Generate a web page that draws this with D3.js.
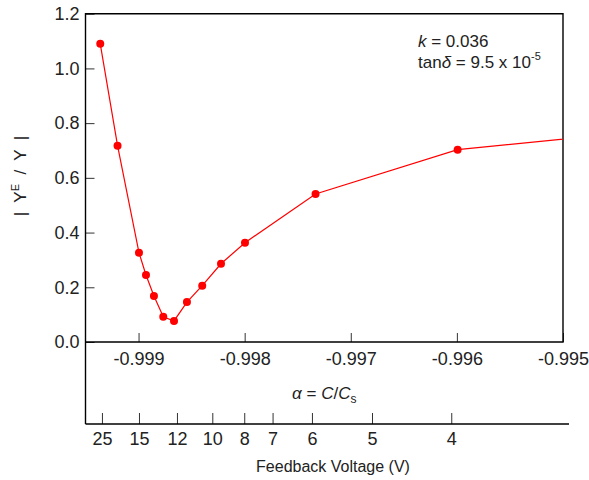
<!DOCTYPE html>
<html>
<head>
<meta charset="utf-8">
<script src="https://cdn.jsdelivr.net/npm/d3@7"></script>
<style>
	body { margin: 0; background: #fff; }
	svg text { font-family: "Liberation Sans", Arial, sans-serif; fill: #222; }
</style>
</head>
<body>
<div id="chart"></div>
<script>
// data
var alphaVals = [-0.999361, -0.999198, -0.998996, -0.998930, -0.998855, -0.998767, -0.998666,
	-0.998544, -0.998400, -0.998223, -0.997997, -0.997332, -0.995993, -0.9948];
var ratioVals = [1.090, 0.7175, 0.3265, 0.245, 0.168, 0.0925, 0.077,
	0.146, 0.206, 0.286, 0.363, 0.541, 0.703, 0.749];

// top axis ticks
var alphaTicks = [-0.999, -0.998, -0.997, -0.996, -0.995];
var yTicks = [0, 0.2, 0.4, 0.6, 0.8, 1.0, 1.2];

// feedback voltage ticks and the alpha they sit at
var voltageTicks = [25, 15, 12, 10, 8, 7, 6, 5, 4];
var voltageAlpha = [-0.999345, -0.998996, -0.998638, -0.998305, -0.998004, -0.997737, -0.997366, -0.996800, -0.996053];

var color = "#ff0000";

// set margins and draw canvas
var margin = {left: 85.5, right: 26, top: 13.7, bottom: 138};
var width = 589 - margin.left - margin.right,
	height = 480 - margin.top - margin.bottom;

var svg = d3.select("#chart").append("svg")
	.attr("width", 589)
	.attr("height", 480);

var canvas = svg.append("g")
	.attr("transform", "translate(" + margin.left + "," + margin.top + ")");

// scales
var x = d3.scaleLinear()
	.domain([-0.9995, -0.995])
	.range([0, width]);

var y = d3.scaleLinear()
	.domain([0, 1.2])
	.range([height, 0]);

// x axis (alpha)
var xAxisCall = d3.axisBottom(x)
	.tickValues(alphaTicks)
	.tickSizeInner(-9)
	.tickSizeOuter(0)
	.tickPadding(10)
	.tickFormat(function(d){ return d.toFixed(3) });
var xAxis = canvas.append("g")
	.attr("class", "x-axis")
	.attr("transform", "translate(0," + height + ")")
	.call(xAxisCall);

// y axis
var yAxisCall = d3.axisLeft(y)
	.tickValues(yTicks)
	.tickSizeInner(-9)
	.tickSizeOuter(0)
	.tickPadding(6)
	.tickFormat(d3.format(".1f"));
var yAxis = canvas.append("g")
	.attr("class", "y-axis")
	.call(yAxisCall);

// voltage axis
var vOffset = 410.3;
var vAxisCall = d3.axisBottom(x)
	.tickValues(voltageAlpha)
	.tickSizeInner(-11)
	.tickSizeOuter(0)
	.tickPadding(8)
	.tickFormat(function(d, i){ return voltageTicks[i] });
var vAxis = canvas.append("g")
	.attr("class", "v-axis")
	.attr("transform", "translate(0," + vOffset + ")")
	.call(vAxisCall);

[xAxis, yAxis, vAxis].forEach(function(g){
	g.select(".domain").remove();
	g.selectAll(".tick line").attr("stroke", "#333").attr("stroke-width", 1);
	g.selectAll(".tick text")
		.attr("font-size", "18px")
		.attr("fill", "#222")
		.attr("font-family", "'Liberation Sans', Arial, sans-serif");
});

// frame
var frame = canvas.append("g")
	.attr("fill", "none")
	.attr("stroke", "#000")
	.attr("stroke-width", 1.4);
frame.append("path")
	.attr("d", "M0," + vOffset + "V0H" + width + "V" + height + "H0");
frame.append("path")
	.attr("d", "M0," + vOffset + "H" + (width + 6));

// clip
canvas.append("clipPath")
	.attr("id", "clip")
	.append("rect")
	.attr("width", width)
	.attr("height", height);

var data = alphaVals.map(function(a, i){ return {a: a, v: ratioVals[i]} });

var plot = canvas.append("g").attr("clip-path", "url(#clip)");

plot.append("path")
	.datum(data)
	.attr("fill", "none")
	.attr("stroke", color)
	.attr("stroke-width", 1.2)
	.attr("d", d3.line()
		.x(function(d){ return x(d.a) })
		.y(function(d){ return y(d.v) }));

plot.selectAll("circle")
	.data(data)
	.enter()
	.append("circle")
	.attr("cx", function(d){ return x(d.a) })
	.attr("cy", function(d){ return y(d.v) })
	.attr("r", 4)
	.attr("fill", color);

// y label
var yl = canvas.append("text")
	.attr("transform", "rotate(-90)")
	.attr("x", -(176 - margin.top))
	.attr("y", -60)
	.attr("text-anchor", "middle")
	.attr("font-size", "17px")
	.attr("xml:space", "preserve");
yl.append("tspan").text("|  Y");
yl.append("tspan").attr("font-size", "11px").attr("dy", "-7").text("E");
yl.append("tspan").attr("dy", "7").text("  /  Y  |");

// alpha label
var al = canvas.append("text")
	.attr("x", width / 2)
	.attr("y", 399 - margin.top)
	.attr("text-anchor", "middle")
	.attr("font-size", "17px");
al.append("tspan").attr("font-style", "italic").text("\u03b1");
al.append("tspan").text(" = ");
al.append("tspan").attr("font-style", "italic").text("C");
al.append("tspan").text("/");
al.append("tspan").attr("font-style", "italic").text("C");
al.append("tspan").attr("font-size", "12px").attr("dy", "4").text("s");

// voltage label
canvas.append("text")
	.attr("x", 333 - margin.left)
	.attr("y", 472 - margin.top)
	.attr("text-anchor", "middle")
	.attr("font-size", "16px")
	.text("Feedback Voltage (V)");

// annotation
var k = canvas.append("text")
	.attr("x", 418 - margin.left)
	.attr("y", 47 - margin.top)
	.attr("font-size", "17px");
k.append("tspan").attr("font-style", "italic").text("k");
k.append("tspan").text(" = 0.036");

var tan = canvas.append("text")
	.attr("x", 418 - margin.left)
	.attr("y", 68 - margin.top)
	.attr("font-size", "17px");
tan.append("tspan").text("tan");
tan.append("tspan").attr("font-style", "italic").text("\u03b4");
tan.append("tspan").text(" = 9.5 x 10");
tan.append("tspan").attr("font-size", "11px").attr("dy", "-8").text("-5");
</script>
</body>
</html>
